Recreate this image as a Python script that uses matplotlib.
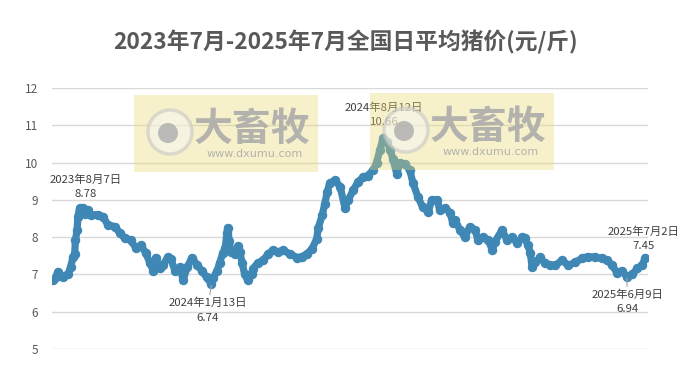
import matplotlib as mpl
mpl.use("agg")
import matplotlib.pyplot as plt
from matplotlib.patches import Rectangle, Circle
import pandas as pd

plt.rcParams['font.family'] = ['Noto Sans CJK SC', 'DejaVu Sans']

# daily hog price (days counted from start date)
start = pd.Timestamp("2023-07-01")
day_offset = [0, 4, 6, 12, 19, 22, 25, 27, 28, 30, 31, 33, 37, 40, 43, 47, 56, 62, 68, 77,
              83, 89, 96, 103, 109, 115, 120, 124, 127, 132, 136, 142, 146, 151, 157, 161,
              166, 172, 178, 184, 190, 196, 198, 203, 206, 210, 213, 215, 216, 218, 220,
              225, 229, 231, 234, 237, 241, 246, 247, 253, 260, 266, 272, 278, 284, 293,
              302, 308, 314, 320, 326, 328, 333, 336, 339, 342, 349, 355, 361, 365, 371,
              377, 383, 389, 396, 400, 404, 408, 413, 417, 420, 425, 429, 435, 441, 445,
              451, 457, 464, 468, 475, 478, 485, 491, 494, 497, 503, 509, 515, 522, 525,
              532, 538, 543, 546, 555, 561, 567, 574, 580, 583, 587, 590, 592, 596, 602,
              608, 614, 621, 629, 637, 645, 654, 661, 670, 679, 685, 691, 697, 703, 709,
              716, 722, 728, 732]
price = [6.84, 6.92, 7.06, 6.93, 7.02, 7.2, 7.47, 7.55, 7.92, 8.19, 8.55, 8.77, 8.78, 8.62,
         8.72, 8.6, 8.6, 8.55, 8.33, 8.28, 8.1, 7.97, 7.92, 7.7, 7.78, 7.57, 7.3, 7.1, 7.45,
         7.16, 7.25, 7.46, 7.4, 7.1, 7.2, 6.84, 7.2, 7.45, 7.26, 7.1, 6.92, 6.74, 6.9, 7.1,
         7.3, 7.57, 7.7, 8.1, 8.25, 7.9, 7.6, 7.55, 7.76, 7.6, 7.3, 7.0, 6.84, 7.0, 7.15,
         7.3, 7.38, 7.55, 7.65, 7.6, 7.65, 7.55, 7.45, 7.48, 7.55, 7.68, 7.95, 8.25, 8.6,
         8.9, 9.2, 9.45, 9.52, 9.35, 8.78, 9.0, 9.25, 9.48, 9.6, 9.65, 9.8, 10.0, 10.33,
         10.66, 10.55, 10.33, 10.1, 9.7, 10.0, 9.95, 9.8, 9.45, 9.08, 8.8, 8.68, 9.0, 9.0,
         8.72, 8.78, 8.65, 8.38, 8.46, 8.19, 8.0, 8.27, 8.19, 7.92, 8.0, 7.92, 7.65, 7.87,
         8.19, 7.92, 8.0, 7.84, 8.0, 7.97, 7.78, 7.57, 7.2, 7.32, 7.46, 7.3, 7.24, 7.24,
         7.38, 7.24, 7.32, 7.43, 7.48, 7.46, 7.43, 7.38, 7.24, 7.05, 7.1, 6.94, 7.0, 7.16,
         7.24, 7.45]

labels = [("2023-08-07", 8.78, "2023年8月7日\n8.78", (3, 21), False),
          ("2024-01-13", 6.74, "2024年1月13日\n6.74", (-4, -26), True),
          ("2024-08-12", 10.66, "2024年8月12日\n10.66", (1, 23), False),
          ("2025-06-09", 6.94, "2025年6月9日\n6.94", (1, -25), True),
          ("2025-07-02", 7.45, "2025年7月2日\n7.45", (-2, 19), False)]

dates = start + pd.to_timedelta(day_offset, unit="D")

fig = plt.figure(figsize=(6.91, 3.71), dpi=100)
ax = fig.add_axes([0.075, 0.0593, 0.863, 0.7037])

ax.plot(dates, price, color="#3F87B5", lw=5.2, marker="o", ms=5.8,
        solid_capstyle="round", solid_joinstyle="round", zorder=3)

ax.set_ylim(5, 12)
ax.set_xlim(start - pd.Timedelta(days=1.2), start + pd.Timedelta(days=735.5))
ax.set_yticks(range(5, 13))
ax.grid(axis="y", color="#D9D9D9", lw=1)
ax.set_xticks([])
for s in ax.spines.values():
    s.set_visible(False)
ax.tick_params(axis="y", length=0, labelsize=8.5, labelcolor="#595959", pad=10)

for d, v, txt, off, leader in labels:
    ax.annotate(txt, xy=(pd.Timestamp(d), v), xytext=off, textcoords="offset pixels",
                ha="center", va="center", fontsize=8.2, color="#404040",
                linespacing=1.55,
                arrowprops=dict(arrowstyle="-", color="#A6A6A6", lw=0.8,
                                shrinkA=9, shrinkB=1) if leader else None)

fig.text(0.5, 0.887, "2023年7月-2025年7月全国日平均猪价(元/斤)", ha="center",
         va="center", fontsize=16.4, fontweight="bold", color="#595959")

# watermark overlays
ov = fig.add_axes([0, 0, 1, 1], zorder=10)
ov.set_xlim(0, 691)
ov.set_ylim(371, 0)
ov.axis("off")
ov.patch.set_alpha(0)
for bx, by in [(134, 95), (370, 93)]:
    ov.add_patch(Rectangle((bx, by), 184, 77, facecolor="#E8D770", alpha=0.36, lw=0))
    ov.add_patch(Circle((bx + 36, by + 37), 22, facecolor="#F6F6F2", edgecolor="#C4C4C4",
                        lw=2.5, alpha=0.55))
    ov.add_patch(Circle((bx + 34, by + 38), 10, facecolor="#A8A8A8", lw=0, alpha=0.75))
    ov.text(bx + 118, by + 34, "大畜牧", ha="center", va="center", fontsize=28,
            fontweight="bold", color="#A8A8A8", alpha=0.85)
    ov.text(bx + 121, by + 59, "www.dxumu.com", ha="center", va="center", fontsize=8,
            color="#A8A8A8", alpha=0.85, family="DejaVu Sans")

fig.savefig("out.png", dpi=100)
